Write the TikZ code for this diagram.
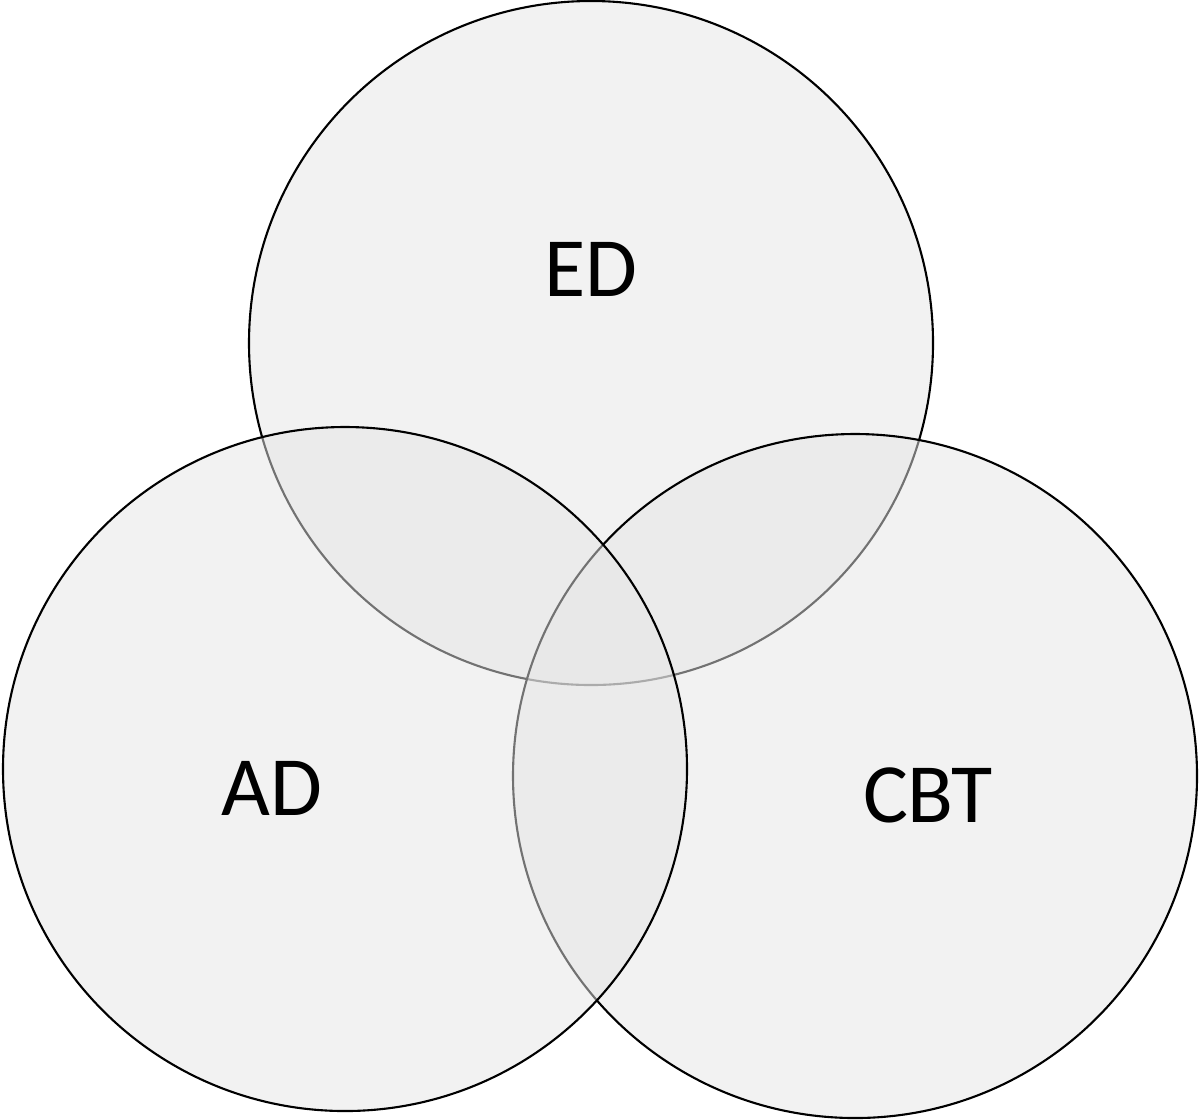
\documentclass[tikz,border=0pt]{standalone}
\usepackage{fontspec}
\setmainfont{Carlito}
\usepackage{tikz}
\usetikzlibrary{positioning}
\tikzset{
  setc/.style  = {draw, circle, line width=0.6pt, fill=black!10,
                  fill opacity=0.5, inner sep=0pt, minimum size=6.84cm},
  setlab/.style = {anchor=base, inner sep=0pt, font=\fontsize{24}{28}\selectfont}
}

\begin{document}
\begin{tikzpicture}
    \useasboundingbox (0,0) rectangle (11.99,-11.19);

    \node[setc] (ED)  at (5.91,-3.43) {};
    \node[setc] (CBT) at (8.55,-7.76) {};
    \node[setc] (AD)  at (3.45,-7.69) {};

    \node[setlab] (tED)  at (5.91,-2.96) {ED};
    \node[setlab] (tAD)  at (2.72,-8.15) {AD};
    \node[setlab] (tCBT) at (9.28,-8.22) {CBT};
\end{tikzpicture}
\end{document}
